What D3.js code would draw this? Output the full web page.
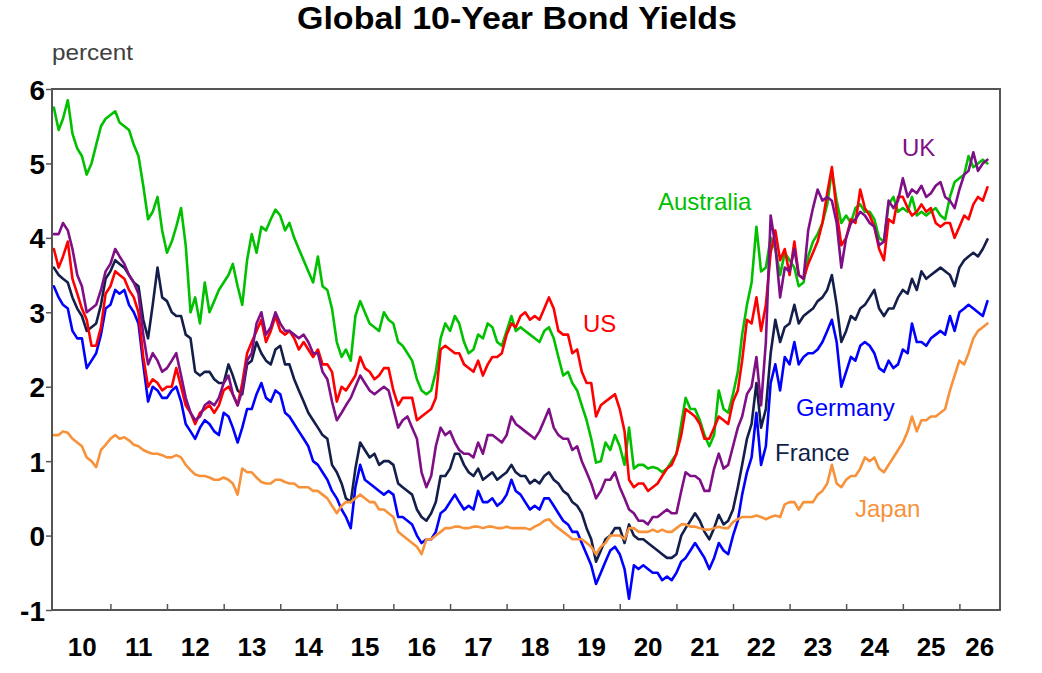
<!DOCTYPE html>
<html><head><meta charset="utf-8">
<script src="https://cdn.jsdelivr.net/npm/d3@7"></script>
<style>
body{margin:0;background:#fff}
svg{display:block}
text{font-family:"Liberation Sans", Arial, Helvetica, sans-serif}
</style>
</head><body>
<svg id="chart" width="1042" height="673"></svg>
<script>
// Monthly observations, Jan 2010 onward
const startYear = 2010;
const australia = [
5.75,5.45,5.6,5.85,5.4,5.2,5.1,4.85,5.0,5.25,5.5,5.6,
5.65,5.7,5.55,5.5,5.45,5.25,5.1,4.7,4.25,4.35,4.55,4.1,
3.8,3.95,4.15,4.4,3.9,3.0,3.2,2.85,3.4,3.0,3.15,3.3,
3.4,3.5,3.65,3.35,3.1,3.7,4.05,3.8,4.15,4.1,4.25,4.38,
4.3,4.1,4.2,4.0,3.85,3.7,3.55,3.4,3.75,3.35,3.3,3.05,
2.6,2.4,2.5,2.35,2.95,3.15,3.0,2.85,2.8,2.75,3.0,2.9,
2.85,2.6,2.55,2.45,2.35,2.1,1.95,1.9,1.95,2.2,2.65,2.85,
2.75,2.95,2.85,2.6,2.45,2.5,2.7,2.65,2.85,2.8,2.6,2.55,
2.75,2.95,2.75,2.8,2.75,2.7,2.65,2.6,2.75,2.8,2.65,2.4,
2.15,2.2,2.05,1.95,1.75,1.55,1.3,0.98,1.0,1.25,1.15,1.35,
1.2,0.95,1.45,0.9,0.95,0.95,0.9,0.92,0.9,0.85,0.9,1.0,
1.1,1.5,1.85,1.7,1.7,1.55,1.35,1.2,1.35,1.95,1.7,1.65,
1.9,2.2,2.7,3.1,3.4,4.15,3.55,3.6,4.0,3.85,3.5,3.8,
3.7,3.6,3.35,3.4,3.75,3.95,4.05,4.2,4.45,4.9,4.5,4.2,
4.3,4.2,4.4,4.45,4.35,4.35,4.25,4.0,3.95,4.45,4.55,4.35,
4.4,4.35,4.55,4.3,4.35,4.3,4.35,4.4,4.3,4.25,4.55,4.75,
4.8,4.85,5.1,4.95,5.0,5.05,5.0];
const us = [
3.85,3.6,3.75,3.95,3.45,3.25,3.05,2.9,2.55,2.55,2.8,3.25,
3.35,3.55,3.5,3.45,3.3,3.2,3.0,2.4,2.0,2.1,2.05,1.95,
2.0,2.0,2.25,2.0,1.75,1.65,1.5,1.65,1.7,1.75,1.65,1.75,
1.95,2.0,1.9,1.75,2.05,2.45,2.6,2.75,2.9,2.6,2.75,2.95,
2.75,2.7,2.75,2.65,2.5,2.6,2.5,2.4,2.5,2.3,2.3,2.2,
1.8,2.0,1.95,2.05,2.15,2.4,2.25,2.2,2.1,2.15,2.25,2.25,
1.95,1.75,1.85,1.85,1.85,1.55,1.6,1.65,1.7,1.85,2.5,2.55,
2.5,2.45,2.45,2.3,2.25,2.2,2.35,2.15,2.3,2.4,2.4,2.45,
2.7,2.85,2.8,2.95,3.0,2.9,2.95,2.9,3.05,3.2,3.05,2.75,
2.7,2.7,2.45,2.5,2.2,2.05,2.05,1.6,1.75,1.8,1.85,1.9,
1.7,1.4,0.75,0.65,0.7,0.7,0.6,0.65,0.7,0.8,0.9,0.95,
1.1,1.35,1.7,1.65,1.6,1.5,1.3,1.3,1.45,1.6,1.55,1.5,
1.8,1.95,2.35,2.9,2.85,3.2,2.75,3.1,3.8,4.1,3.7,3.85,
3.5,3.95,3.5,3.45,3.65,3.8,3.95,4.2,4.6,4.95,4.35,3.9,
4.0,4.25,4.2,4.65,4.4,4.3,4.15,3.85,3.7,4.25,4.2,4.55,
4.55,4.4,4.3,4.35,4.45,4.35,4.4,4.2,4.15,4.2,4.2,4.0,
4.15,4.3,4.25,4.45,4.55,4.5,4.68];
const uk = [
4.05,4.05,4.2,4.1,3.85,3.5,3.35,3.0,3.05,3.1,3.3,3.55,
3.65,3.85,3.75,3.65,3.5,3.4,3.25,2.7,2.3,2.45,2.35,2.2,
2.25,2.35,2.45,2.15,1.85,1.65,1.55,1.6,1.75,1.8,1.75,1.85,
2.05,2.15,1.9,1.75,1.95,2.35,2.45,2.85,3.0,2.7,2.8,3.0,
2.85,2.75,2.75,2.7,2.65,2.7,2.6,2.45,2.45,2.2,2.1,1.8,
1.55,1.65,1.75,1.85,2.0,2.15,2.05,1.95,1.9,1.95,2.0,1.95,
1.7,1.45,1.55,1.6,1.45,1.3,0.85,0.65,0.8,1.2,1.45,1.35,
1.4,1.25,1.15,1.1,1.1,1.05,1.25,1.1,1.35,1.35,1.3,1.25,
1.35,1.6,1.5,1.45,1.4,1.35,1.3,1.4,1.55,1.7,1.45,1.35,
1.3,1.3,1.15,1.2,1.0,0.85,0.7,0.5,0.6,0.75,0.75,0.85,
0.65,0.5,0.35,0.3,0.2,0.2,0.15,0.25,0.25,0.3,0.35,0.3,
0.3,0.6,0.85,0.8,0.8,0.75,0.6,0.6,0.9,1.1,0.9,0.95,
1.2,1.45,1.6,1.9,2.0,2.4,1.75,2.6,4.3,3.9,3.2,3.6,
3.55,3.85,3.5,3.45,4.1,4.4,4.65,4.5,4.55,4.5,4.2,3.6,
4.0,4.2,4.25,4.35,4.3,4.2,4.15,3.9,3.95,4.5,4.4,4.5,
4.8,4.55,4.65,4.6,4.7,4.55,4.6,4.7,4.75,4.55,4.5,4.4,
4.65,4.85,4.9,5.15,4.9,5.0,5.05];
const france = [
3.6,3.5,3.45,3.4,3.2,3.05,2.95,2.75,2.8,2.85,3.1,3.45,
3.55,3.7,3.65,3.6,3.5,3.4,3.35,2.9,2.65,3.1,3.6,3.2,
3.15,3.0,2.95,2.95,2.7,2.65,2.2,2.15,2.2,2.2,2.1,2.05,
2.05,2.3,2.15,1.95,1.9,2.3,2.35,2.6,2.45,2.35,2.3,2.5,
2.55,2.3,2.3,2.1,1.95,1.8,1.65,1.55,1.45,1.35,1.3,0.95,
0.85,0.7,0.5,0.45,0.9,1.25,1.15,1.05,1.1,0.95,1.0,1.0,
0.95,0.7,0.65,0.6,0.55,0.35,0.25,0.2,0.3,0.45,0.8,0.8,
0.9,1.1,1.1,0.95,0.85,0.8,0.9,0.75,0.8,0.85,0.75,0.8,
0.85,0.95,0.85,0.8,0.8,0.7,0.75,0.7,0.8,0.85,0.75,0.7,
0.6,0.55,0.45,0.4,0.3,0.1,-0.05,-0.35,-0.2,-0.05,0.0,0.1,
0.1,-0.1,0.15,0.0,-0.05,-0.05,-0.1,-0.15,-0.2,-0.25,-0.3,-0.3,
-0.25,0.0,0.1,0.2,0.3,0.2,0.05,-0.05,0.1,0.28,0.15,0.2,
0.35,0.65,0.95,1.3,1.5,2.05,1.45,1.7,2.45,2.9,2.6,2.8,
2.85,3.1,2.85,2.95,3.0,3.05,3.15,3.2,3.3,3.5,3.1,2.6,
2.75,2.95,2.9,3.05,3.1,3.2,3.3,3.05,2.95,3.05,3.05,3.2,
3.3,3.25,3.45,3.3,3.55,3.45,3.5,3.55,3.6,3.55,3.5,3.35,
3.6,3.7,3.75,3.8,3.75,3.85,3.98];
const germany = [
3.35,3.2,3.1,3.05,2.75,2.65,2.65,2.25,2.35,2.45,2.7,3.05,
3.1,3.3,3.25,3.3,3.1,3.0,2.85,2.3,1.8,2.0,1.95,1.85,
1.85,1.95,2.0,1.8,1.5,1.4,1.3,1.45,1.55,1.5,1.4,1.35,
1.65,1.6,1.45,1.25,1.45,1.7,1.7,1.9,2.05,1.85,1.8,1.95,
1.9,1.65,1.6,1.5,1.4,1.3,1.2,1.0,0.95,0.85,0.75,0.6,
0.5,0.35,0.25,0.1,0.65,0.95,0.75,0.7,0.65,0.6,0.55,0.6,
0.55,0.25,0.25,0.2,0.15,0.0,-0.1,-0.05,-0.05,0.05,0.3,0.35,
0.45,0.55,0.45,0.35,0.4,0.35,0.6,0.45,0.45,0.5,0.4,0.45,
0.55,0.75,0.6,0.55,0.45,0.35,0.4,0.35,0.5,0.5,0.4,0.3,
0.2,0.15,0.05,0.05,-0.1,-0.25,-0.4,-0.65,-0.5,-0.35,-0.2,-0.15,
-0.25,-0.45,-0.85,-0.4,-0.45,-0.4,-0.45,-0.5,-0.5,-0.6,-0.55,-0.6,
-0.5,-0.35,-0.3,-0.2,-0.1,-0.2,-0.3,-0.45,-0.3,-0.1,-0.2,-0.25,
0.0,0.2,0.55,0.85,1.05,1.65,0.95,1.2,2.05,2.3,1.95,2.4,
2.3,2.6,2.3,2.4,2.45,2.45,2.5,2.6,2.75,2.9,2.6,2.0,
2.2,2.4,2.35,2.55,2.6,2.55,2.45,2.25,2.2,2.35,2.25,2.3,
2.5,2.45,2.85,2.6,2.6,2.55,2.65,2.7,2.75,2.7,2.95,2.75,
3.0,3.05,3.1,3.05,3.0,2.95,3.15];
const japan = [
1.35,1.35,1.4,1.38,1.3,1.25,1.2,1.05,1.0,0.92,1.15,1.22,
1.3,1.35,1.3,1.32,1.28,1.22,1.2,1.15,1.12,1.1,1.1,1.08,
1.05,1.05,1.08,1.05,0.95,0.88,0.82,0.8,0.8,0.78,0.75,0.75,
0.78,0.75,0.7,0.55,0.9,0.85,0.85,0.78,0.72,0.7,0.7,0.75,
0.75,0.72,0.7,0.7,0.65,0.65,0.65,0.6,0.6,0.55,0.5,0.4,
0.3,0.4,0.45,0.45,0.5,0.55,0.5,0.45,0.45,0.35,0.35,0.3,
0.25,0.05,0.0,-0.05,-0.1,-0.15,-0.25,-0.05,-0.05,0.0,0.05,0.1,
0.1,0.12,0.12,0.1,0.1,0.12,0.12,0.1,0.12,0.12,0.1,0.1,
0.12,0.1,0.1,0.1,0.1,0.08,0.12,0.15,0.2,0.22,0.15,0.1,
0.05,0.0,-0.05,-0.05,-0.05,-0.1,-0.15,-0.25,-0.15,-0.1,0.0,0.0,
0.0,-0.05,0.1,0.1,0.05,0.05,0.05,0.08,0.05,0.08,0.05,0.05,
0.1,0.15,0.15,0.12,0.12,0.1,0.08,0.08,0.1,0.12,0.1,0.1,
0.18,0.22,0.25,0.25,0.25,0.27,0.25,0.22,0.25,0.27,0.25,0.42,
0.45,0.45,0.35,0.45,0.45,0.45,0.55,0.6,0.7,0.95,0.7,0.65,
0.75,0.8,0.8,0.9,1.05,1.0,1.05,0.9,0.85,0.95,1.05,1.15,
1.25,1.4,1.6,1.4,1.55,1.55,1.6,1.6,1.65,1.7,1.95,2.15,
2.35,2.3,2.45,2.65,2.75,2.8,2.85];

const yTickValues = [-1,0,1,2,3,4,5,6];
const yearTickLabels = ["10","11","12","13","14","15","16","17","18","19","20","21","22","23","24","25","26"];
const seriesLabels = ["Australia","US","UK","France","Germany","Japan"];
const titleText = "Global 10-Year Bond Yields";
const unitText = "percent";

// ---------- styling / layout ----------
const W = 1042, H = 673;
const M = {left:52, right:1000, top:89, bottom:610};
const colors = {Australia:"#00c000", US:"#ff0000", UK:"#7f0f86", France:"#131f4a", Germany:"#0000ff", Japan:"#f7923a"};
const labelPos = {
  Australia:{x:658, y:210}, UK:{x:902, y:156}, US:{x:583, y:332},
  Germany:{x:796, y:416}, France:{x:775, y:461}, Japan:{x:855, y:517}
};
const dataBySeries = {Australia:australia, US:us, UK:uk, France:france, Germany:germany, Japan:japan};
const drawOrder = ["Germany","France","Australia","US","UK","Japan"];

const svg = d3.select("#chart");
const x = d3.scaleTime()
  .domain([new Date(2009,11,20), new Date(2026,8,20)])
  .range([M.left, M.right]);
const y = d3.scaleLinear().domain([-1,6]).range([M.bottom, M.top]);

const dateOf = i => new Date(startYear, i, 1);

svg.append("defs").append("clipPath").attr("id","clip")
  .append("rect").attr("x",M.left).attr("y",M.top)
  .attr("width",M.right-M.left).attr("height",M.bottom-M.top);

// title
svg.append("text").attr("x",517).attr("y",29).attr("text-anchor","middle")
  .attr("font-size",31).attr("font-weight","bold").attr("fill","#000")
  .attr("textLength",440).attr("lengthAdjust","spacingAndGlyphs")
  .text(titleText);
svg.append("text").attr("x",52).attr("y",60)
  .attr("font-size",22).attr("fill","#404040")
  .attr("textLength",81).attr("lengthAdjust","spacingAndGlyphs")
  .text(unitText);

// lines
const line = d3.line()
  .x((d,i)=>x(dateOf(i)))
  .y(d=>y(d))
  .curve(d3.curveLinear);
const g = svg.append("g").attr("clip-path","url(#clip)");
drawOrder.forEach(name=>{
  g.append("path").datum(dataBySeries[name])
    .attr("d", line)
    .attr("fill","none")
    .attr("stroke", colors[name])
    .attr("stroke-width", 2.6)
    .attr("stroke-linejoin","round")
    .attr("stroke-linecap","round");
});

// frame
svg.append("rect").attr("x",M.left).attr("y",M.top)
  .attr("width",M.right-M.left).attr("height",M.bottom-M.top)
  .attr("fill","none").attr("stroke","#555").attr("stroke-width",2);

// y axis ticks + labels (hyphen minus as in the original)
const yAxis = d3.axisLeft(y).tickValues(yTickValues).tickSize(6).tickFormat(d=>String(d));
const yg = svg.append("g").attr("transform",`translate(${M.left},0)`).call(yAxis);
yg.select(".domain").remove();
yg.selectAll(".tick line").attr("stroke","#555").attr("stroke-width",1.5);
yg.selectAll(".tick text").attr("font-size",28).attr("font-weight","bold")
  .attr("fill","#000").attr("x",-7).attr("dy","0.36em")
  .style("font-family",'"Liberation Sans", Arial, sans-serif');

// x axis: year ticks inside, labels centred in each year
const yearStarts = d3.range(2011, 2027).map(yr=>new Date(yr,0,1));
const xAxis = d3.axisBottom(x).tickValues(yearStarts).tickSize(-6).tickFormat("");
const xg = svg.append("g").attr("transform",`translate(0,${M.bottom})`).call(xAxis);
xg.select(".domain").remove();
xg.selectAll(".tick line").attr("stroke","#555").attr("stroke-width",1.5);

const xLab = svg.append("g");
yearTickLabels.forEach((lab,i)=>{
  const yr = 2010 + i;
  const a = Math.max(M.left, x(new Date(yr,0,1)));
  const b = Math.min(M.right, x(new Date(yr+1,0,1)));
  xLab.append("text").attr("x",(a+b)/2).attr("y",656)
    .attr("text-anchor","middle").attr("font-size",26).attr("font-weight","bold")
    .attr("fill","#000").text(lab);
});

// series labels
seriesLabels.forEach(name=>{
  svg.append("text").attr("x",labelPos[name].x).attr("y",labelPos[name].y)
    .attr("font-size",24).attr("fill",colors[name]).text(name);
});
</script>
</body></html>
